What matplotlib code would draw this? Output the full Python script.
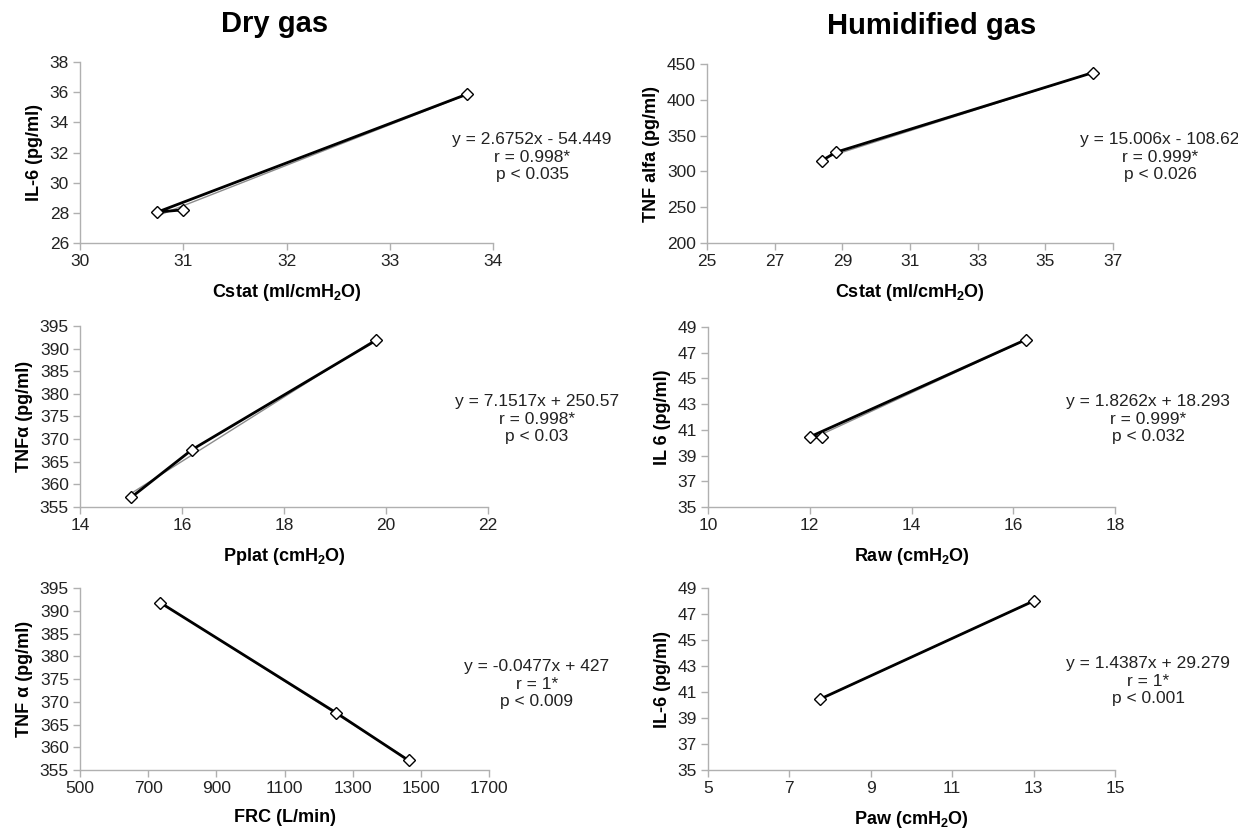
import matplotlib
matplotlib.use("Agg")
import matplotlib.pyplot as plt
import numpy as np

plt.rcParams["font.family"] = ["Liberation Sans", "DejaVu Sans"]
plt.rcParams["mathtext.fontset"] = "custom"
plt.rcParams["mathtext.rm"] = "Liberation Sans"
plt.rcParams["mathtext.bf"] = "Liberation Sans:bold"

# --- data (points in the order the line joins them) ---
dry_cstat_x = [31.0, 30.75, 33.75]
dry_cstat_y = [28.2, 28.05, 35.87]

dry_pplat_x = [15.0, 16.2, 19.8]
dry_pplat_y = [357.1, 367.7, 391.8]

dry_frc_x = [735, 1251, 1464]
dry_frc_y = [391.8, 367.6, 357.1]

hum_cstat_x = [28.4, 28.8, 36.4]
hum_cstat_y = [315.0, 326.6, 437.9]

hum_raw_x = [12.25, 12.0, 16.25]
hum_raw_y = [40.45, 40.45, 48.02]

hum_paw_x = [7.75, 13.0]
hum_paw_y = [40.45, 48.0]

stats_text = [
    "y = 2.6752x - 54.449\nr = 0.998*\np < 0.035",
    "y = 15.006x - 108.62\nr = 0.999*\np < 0.026",
    "y = 7.1517x + 250.57\nr = 0.998*\np < 0.03",
    "y = 1.8262x + 18.293\nr = 0.999*\np < 0.032",
    "y = -0.0477x + 427\nr = 1*\np < 0.009",
    "y = 1.4387x + 29.279\nr = 1*\np < 0.001",
]

W, H = 1238, 830
fig = plt.figure(figsize=(W / 100, H / 100), dpi=100)

AXIS_GREY = "#b0b0b0"


def px_axes(left, top, right, bottom):
    return fig.add_axes([left / W, 1 - bottom / H, (right - left) / W, (bottom - top) / H])


panels = [
    # (x, y, xlim, xticks, ylim, yticks, xlabel, ylabel, box, text_pos)
    (dry_cstat_x, dry_cstat_y, (30, 34), np.arange(30, 35, 1), (26, 38), np.arange(26, 39, 2),
     r"Cstat (ml/cmH$_\mathbf{2}$O)", "IL-6 (pg/ml)", (80, 62, 493, 243), (532, 157)),
    (hum_cstat_x, hum_cstat_y, (25, 37), np.arange(25, 38, 2), (200, 450), np.arange(200, 451, 50),
     r"Cstat (ml/cmH$_\mathbf{2}$O)", "TNF alfa (pg/ml)", (707, 64, 1113, 243), (1160, 157)),
    (dry_pplat_x, dry_pplat_y, (14, 22), np.arange(14, 23, 2), (355, 395), np.arange(355, 396, 5),
     r"Pplat (cmH$_\mathbf{2}$O)", "TNFα (pg/ml)", (80, 326, 488, 507), (537, 419)),
    (hum_raw_x, hum_raw_y, (10, 18), np.arange(10, 19, 2), (35, 49), np.arange(35, 50, 2),
     r"Raw (cmH$_\mathbf{2}$O)", "IL 6 (pg/ml)", (708, 327, 1115, 507), (1148, 419)),
    (dry_frc_x, dry_frc_y, (500, 1700), np.arange(500, 1701, 200), (355, 395), np.arange(355, 396, 5),
     "FRC (L/min)", "TNF α (pg/ml)", (80, 588, 489, 770), (537, 684)),
    (hum_paw_x, hum_paw_y, (5, 15), np.arange(5, 16, 2), (35, 49), np.arange(35, 50, 2),
     r"Paw (cmH$_\mathbf{2}$O)", "IL-6 (pg/ml)", (708, 588, 1115, 770), (1148, 681)),
]

for (xs, ys, xlim, xticks, ylim, yticks, xlabel, ylabel, box, tpos), txt in zip(panels, stats_text):
    ax = px_axes(*box)
    xs = np.asarray(xs, dtype=float)
    ys = np.asarray(ys, dtype=float)

    # linear trendline over the data range
    slope, icpt = np.polyfit(xs, ys, 1)
    tx = np.array([xs.min(), xs.max()])
    ax.plot(tx, slope * tx + icpt, color="#8c8c8c", lw=1.0, zorder=2)

    ax.plot(xs, ys, color="black", lw=2.0, zorder=3,
            marker="D", markersize=6.5, markerfacecolor="white",
            markeredgecolor="black", markeredgewidth=1.0)

    ax.set_xlim(*xlim)
    ax.set_ylim(*ylim)
    ax.set_xticks(xticks)
    ax.set_yticks(yticks)
    for s in ("top", "right"):
        ax.spines[s].set_visible(False)
    for s in ("left", "bottom"):
        ax.spines[s].set_color(AXIS_GREY)
        ax.spines[s].set_linewidth(1.0)
    ax.tick_params(direction="out", length=5, width=1.0, color=AXIS_GREY,
                   labelsize=12.5, labelcolor="#222222", pad=3)
    ax.set_xlabel(xlabel, fontsize=13, fontweight="bold", labelpad=9)
    ax.set_ylabel(ylabel, fontsize=13, fontweight="bold", labelpad=5)
    ax.patch.set_alpha(0)

    fig.text(tpos[0] / W, 1 - tpos[1] / H, txt, ha="center", va="center",
             multialignment="center", fontsize=12.5, color="#222222", linespacing=1.2)

fig.text(275 / W, 1 - 24 / H, "Dry gas", ha="center", va="center",
         fontsize=21, fontweight="bold")
fig.text(932 / W, 1 - 26 / H, "Humidified gas", ha="center", va="center",
         fontsize=21, fontweight="bold")

fig.savefig("out.png", dpi=100, facecolor="white")
